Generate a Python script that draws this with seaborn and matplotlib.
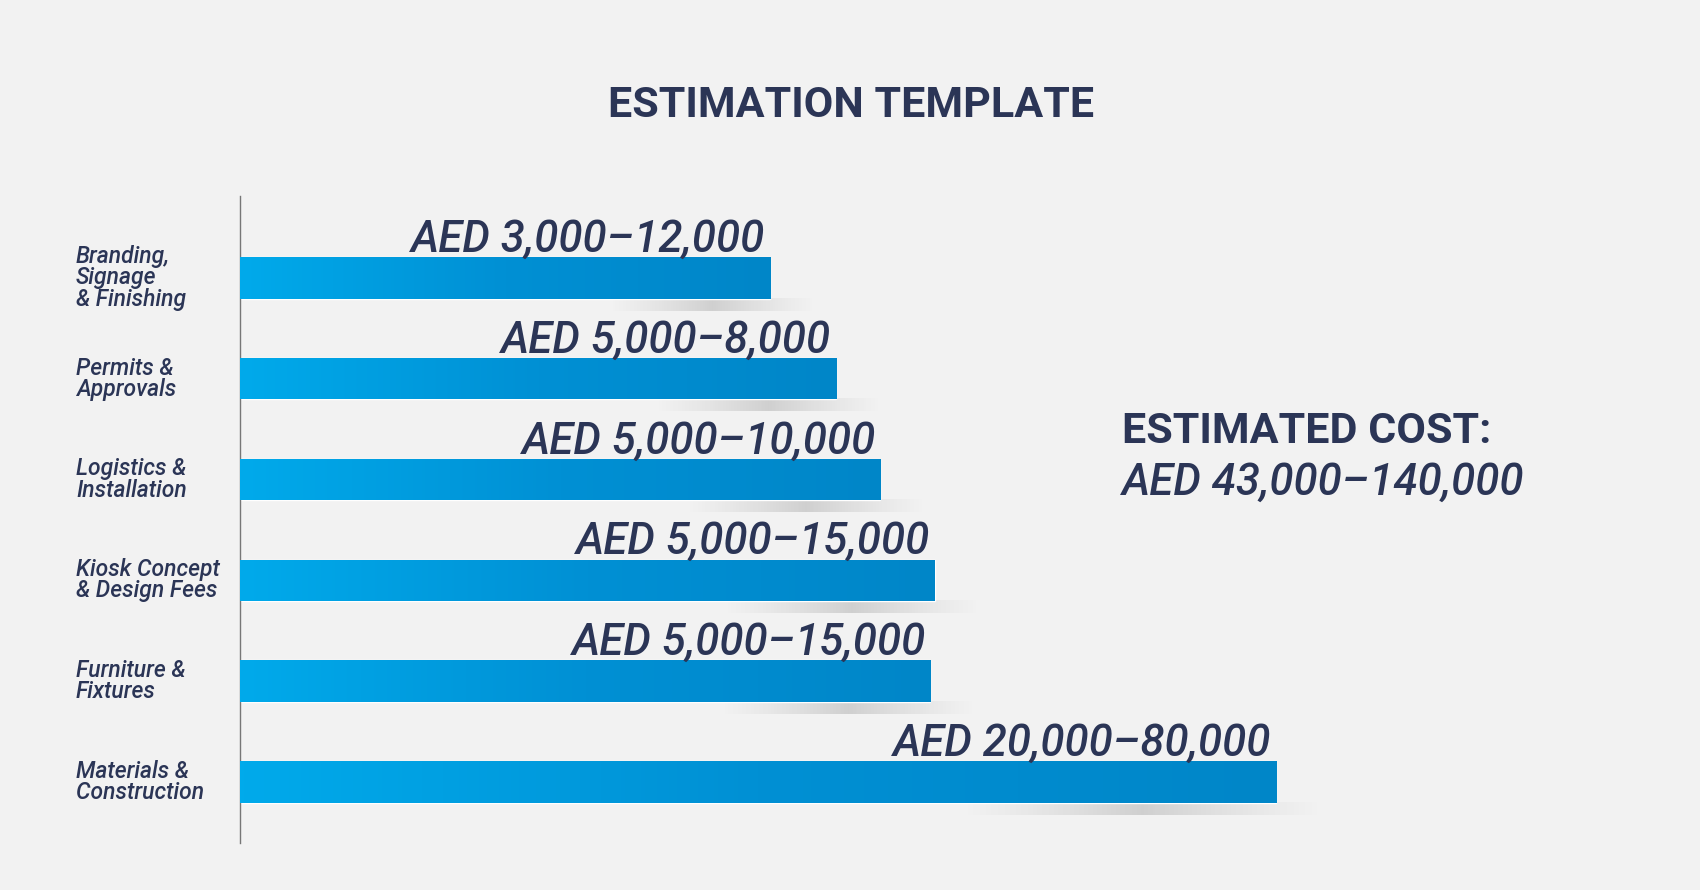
import matplotlib
matplotlib.use("Agg")
import matplotlib.pyplot as plt
import matplotlib.transforms as mtransforms
import numpy as np
import pandas as pd
import seaborn as sns

# ------------------------------
# DATA
# ------------------------------
categories = [
    "Branding,\nSignage\n& Finishing",
    "Permits &\nApprovals",
    "Logistics &\nInstallation",
    "Kiosk Concept\n& Design Fees",
    "Furniture &\nFixtures",
    "Materials &\nConstruction",
]
value_labels = [
    "AED 3,000\u201312,000",
    "AED 5,000\u20138,000",
    "AED 5,000\u201310,000",
    "AED 5,000\u201315,000",
    "AED 5,000\u201315,000",
    "AED 20,000\u201380,000",
]
# visual bar lengths as drawn in the template (not to scale with the ranges)
bar_length = [489, 550, 591, 641, 637, 956]
total_label = "AED 43,000\u2013140,000"

BG = "#F2F2F2"
NAVY = "#2B3556"

sns.set_theme(style="white")
plt.rcParams["font.family"] = ["Roboto", "DejaVu Sans"]

df = pd.DataFrame({"category": categories, "length": bar_length})

fig = plt.figure(figsize=(17, 8.9), dpi=100, facecolor=BG)
W, H = 1568, 821
ax = fig.add_axes([221 / W, 1 - 778 / H, (W - 221) / W, (778 - 181) / H])
ax.set_facecolor(BG)

sns.barplot(data=df, x="length", y="category", orient="h", color="#0099DD",
            width=0.41, ax=ax)

# gradient fill + soft shadow per bar
grad = np.linspace(0, 1, 256).reshape(1, -1)
cmap = matplotlib.colors.LinearSegmentedColormap.from_list("b", ["#00AAEB", "#0090D4", "#0086C8"])
shadow_cmap = matplotlib.colors.LinearSegmentedColormap.from_list(
    "s", [(0.6, 0.6, 0.6, 0.0), (0.5, 0.5, 0.5, 0.3), (0.6, 0.6, 0.6, 0.0)])
for patch, length in zip(ax.patches, bar_length):
    x0, y0 = patch.get_x(), patch.get_y()
    w, h = patch.get_width(), patch.get_height()
    ax.imshow(grad, cmap=shadow_cmap, aspect="auto", zorder=1,
              extent=[x0 + w * 0.7, x0 + w + 40, y0 + h + 0.12, y0 + h])
    im = ax.imshow(grad, cmap=cmap, aspect="auto", zorder=3,
                   extent=[x0, x0 + w, y0 + h, y0])
    im.set_clip_path(patch)
    patch.set_zorder(2)

ax.set_xlim(0, W - 221)
ax.set_ylim(5.61, -0.81)

for i, (lbl, length) in enumerate(zip(value_labels, bar_length)):
    ax.text(length - 4, i - 0.26, lbl, ha="right", va="baseline", fontsize=31.5,
            style="italic", fontweight="medium", color=NAVY, zorder=4)

# category labels on the left
trans = mtransforms.blended_transform_factory(fig.transFigure, ax.transData)
ax.set_yticks([])
ax.set_xticks([])
ax.set_ylabel("")
ax.set_xlabel("")
for i, cat in enumerate(categories):
    ax.text(70 / W, i, cat, transform=trans, ha="left", va="center", fontsize=16.5,
            style="italic", fontweight="medium", color=NAVY, linespacing=0.9)

for s in ["top", "right", "bottom"]:
    ax.spines[s].set_visible(False)
ax.spines["left"].set_color("#777777")
ax.spines["left"].set_linewidth(1)

fig.text(785 / W, 1 - 97 / H, "ESTIMATION TEMPLATE", ha="center", va="center",
         fontsize=31, fontweight="bold", color=NAVY)
fig.text(1035 / W, 1 - 398 / H, "ESTIMATED COST:", ha="left", va="center",
         fontsize=31, fontweight="bold", color=NAVY)
fig.text(1035 / W, 1 - 445 / H, total_label, ha="left", va="center",
         fontsize=31.5, style="italic", fontweight="medium", color=NAVY)

fig.savefig("out.png", dpi=100, facecolor=BG)
